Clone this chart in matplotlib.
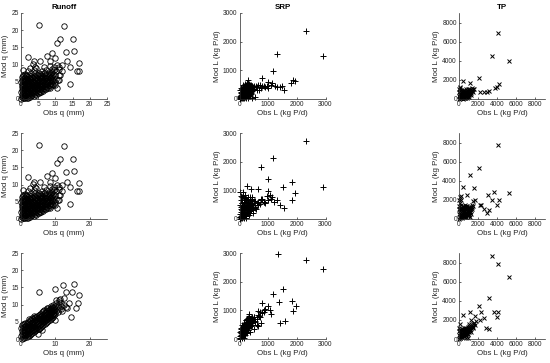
import matplotlib
matplotlib.use('Agg')
import matplotlib.pyplot as plt

plt.rcParams['font.family'] = ['Liberation Sans', 'DejaVu Sans']

# Runoff, rows 1 and 2 (same scatter), (obs, mod) in mm
runoff_a = [
    (0.1, 0.1), (0.2, 0.6), (0.3, 1.3), (0.1, 2.0), (0.4, 2.7), (0.2, 3.4), (0.3, 4.1), (0.1, 4.9),
    (0.4, 5.6), (0.2, 6.3), (0.5, 7.1), (0.6, 8.5),
    (0.9, 0.2), (0.8, 0.9), (1.0, 1.7), (0.9, 2.5), (0.8, 3.2), (1.0, 4.0), (0.9, 4.8), (1.1, 5.5),
    (0.9, 6.2), (1.2, 7.4),
    (1.6, 0.3), (1.5, 1.1), (1.7, 1.9), (1.6, 2.7), (1.5, 3.5), (1.7, 4.3), (1.6, 5.1), (1.8, 5.9),
    (1.5, 6.6), (1.9, 8.0),
    (2.3, 0.5), (2.2, 1.3), (2.4, 2.1), (2.3, 2.9), (2.2, 3.7), (2.4, 4.5), (2.3, 5.3), (2.5, 6.1),
    (2.2, 7.0), (2.6, 9.0),
    (3.0, 0.8), (3.1, 1.6), (2.9, 2.4), (3.0, 3.2), (3.1, 4.0), (2.9, 4.8), (3.0, 5.6), (3.2, 6.5),
    (3.0, 7.6), (3.4, 10.2),
    (3.7, 1.0), (3.8, 1.8), (3.6, 2.6), (3.7, 3.4), (3.8, 4.2), (3.6, 5.0), (3.7, 5.8), (3.9, 6.7),
    (3.8, 8.3),
    (4.4, 1.3), (4.5, 2.1), (4.3, 2.9), (4.4, 3.7), (4.5, 4.5), (4.3, 5.3), (4.4, 6.1), (4.6, 7.1),
    (4.5, 9.0),
    (5.1, 1.6), (5.2, 2.4), (5.0, 3.2), (5.1, 4.0), (5.2, 4.8), (5.0, 5.6), (5.1, 6.5), (5.3, 7.6),
    (5.8, 2.0), (5.9, 2.8), (5.7, 3.6), (5.8, 4.4), (5.9, 5.2), (5.7, 6.0), (5.8, 6.9), (6.0, 8.2),
    (6.5, 2.4), (6.6, 3.2), (6.4, 4.0), (6.5, 4.8), (6.6, 5.6), (6.4, 6.5), (6.6, 7.5), (6.8, 9.2),
    (7.2, 2.8), (7.3, 3.7), (7.1, 4.5), (7.2, 5.3), (7.3, 6.2), (7.2, 7.1), (7.4, 8.3),
    (7.9, 3.3), (8.0, 4.2), (7.8, 5.0), (7.9, 5.9), (8.0, 6.8), (8.1, 7.9), (8.3, 9.6),
    (8.6, 3.8), (8.7, 4.7), (8.5, 5.6), (8.6, 6.5), (8.8, 7.6), (8.9, 8.8),
    (9.3, 4.2), (9.4, 5.2), (9.2, 6.2), (9.4, 7.3), (9.5, 8.5),
    (10.0, 4.8), (10.1, 5.9), (9.9, 7.0), (10.2, 8.2), (10.4, 9.8),
    (10.8, 5.6), (10.9, 6.9), (11.1, 8.6),
    (0.5, 0.4), (0.6, 1.0), (0.5, 1.6), (0.6, 2.3), (0.5, 3.0), (0.6, 3.7), (0.5, 4.4), (0.6, 5.2),
    (0.5, 5.9), (0.7, 6.7),
    (1.2, 0.3), (1.3, 1.3), (1.2, 2.1), (1.3, 2.9), (1.2, 3.6), (1.3, 4.4), (1.2, 5.2), (1.3, 6.0),
    (1.4, 7.0),
    (1.9, 0.4), (2.0, 1.5), (1.9, 2.3), (2.0, 3.1), (1.9, 3.9), (2.0, 4.7), (1.9, 5.5), (2.0, 6.3),
    (2.6, 0.7), (2.7, 1.7), (2.6, 2.5), (2.7, 3.3), (2.6, 4.1), (2.7, 4.9), (2.6, 5.7), (2.8, 6.8),
    (3.3, 1.1), (3.4, 2.0), (3.3, 2.8), (3.4, 3.6), (3.3, 4.4), (3.4, 5.2), (3.3, 6.0),
    (4.0, 1.4), (4.1, 2.3), (4.0, 3.1), (4.1, 3.9), (4.0, 4.7), (4.1, 5.5), (4.0, 6.4), (4.2, 7.6),
    (4.8, 1.8), (4.7, 2.6), (4.8, 3.4), (4.7, 4.2), (4.8, 5.0), (4.7, 5.9), (4.9, 6.9),
    (5.5, 2.1), (5.4, 2.9), (5.5, 3.7), (5.4, 4.5), (5.5, 5.3), (5.4, 6.2), (5.6, 7.2),
    (6.2, 2.6), (6.1, 3.4), (6.2, 4.2), (6.1, 5.0), (6.2, 5.9), (6.1, 6.8),
    (6.9, 2.9), (6.8, 3.8), (6.9, 4.6), (6.8, 5.5), (6.9, 6.4), (7.0, 7.6),
    (7.6, 3.4), (7.5, 4.3), (7.6, 5.2), (7.5, 6.1), (7.7, 7.2),
    (8.3, 4.1), (8.2, 5.0), (8.3, 6.0), (8.4, 7.1),
    (9.0, 4.5), (8.9, 5.5), (9.0, 6.6), (9.1, 7.9),
    (5.1, 21.6), (12.4, 21.1), (11.2, 17.4), (10.4, 16.2), (15.0, 17.4), (15.5, 14.0), (13.1, 13.6),
    (16.8, 10.6), (16.2, 8.1), (16.8, 8.1), (14.3, 4.4), (1.9, 12.2), (9.0, 13.3), (7.5, 12.4),
    (13.3, 10.9), (14.3, 9.4), (11.9, 9.9), (11.9, 8.0), (10.6, 3.1), (9.9, 11.9), (5.6, 10.9),
    (3.7, 10.9), (4.2, 9.4), (8.5, 10.9), (9.5, 9.4), (10.9, 9.4), (11.4, 7.0), (10.9, 5.5),
    (9.9, 4.1), (8.5, 3.1),
]

# Runoff, row 3
runoff_b = [
    (0.2, 0.1), (0.1, 0.8), (0.3, 1.6), (0.2, 2.4), (0.1, 3.2), (0.3, 4.0),
    (0.9, 0.3), (0.8, 1.1), (1.0, 1.9), (0.9, 2.7), (0.8, 3.5), (1.0, 4.3),
    (1.6, 0.6), (1.5, 1.4), (1.7, 2.2), (1.6, 3.0), (1.5, 3.8), (1.7, 4.6),
    (2.3, 1.0), (2.2, 1.8), (2.4, 2.6), (2.3, 3.4), (2.2, 4.2), (2.4, 5.0), (2.3, 5.8),
    (3.0, 1.5), (3.1, 2.3), (2.9, 3.1), (3.0, 3.9), (3.1, 4.7), (3.0, 5.5), (3.2, 6.1),
    (3.7, 2.0), (3.8, 2.8), (3.6, 3.6), (3.7, 4.4), (3.8, 5.2), (3.7, 6.0), (3.9, 6.6),
    (4.4, 2.5), (4.5, 3.3), (4.3, 4.1), (4.4, 4.9), (4.5, 5.7), (4.4, 6.5),
    (5.1, 3.0), (5.2, 3.8), (5.0, 4.6), (5.1, 5.4), (5.2, 6.2), (5.1, 7.0),
    (5.8, 3.5), (5.9, 4.3), (5.7, 5.1), (5.8, 5.9), (5.9, 6.7), (5.8, 7.4),
    (6.5, 4.0), (6.6, 4.8), (6.4, 5.6), (6.5, 6.4), (6.6, 7.2), (6.5, 8.0),
    (7.2, 4.6), (7.3, 5.4), (7.1, 6.2), (7.2, 7.0), (7.3, 7.8), (7.2, 8.5),
    (7.9, 5.2), (8.0, 6.0), (7.8, 6.8), (7.9, 7.6), (8.0, 8.4), (7.9, 9.1),
    (8.6, 5.8), (8.7, 6.6), (8.5, 7.4), (8.6, 8.2), (8.7, 9.0), (8.6, 9.7),
    (9.3, 6.5), (9.4, 7.3), (9.2, 8.1), (9.3, 8.9), (9.4, 9.8),
    (10.0, 7.2), (10.1, 8.0), (9.9, 8.8), (10.0, 9.7), (10.1, 10.6), (10.2, 11.4),
    (10.8, 7.9), (10.9, 8.8), (10.7, 9.6), (11.0, 10.8), (11.2, 11.6),
    (11.6, 8.6), (11.7, 9.6), (11.5, 10.5),
    (0.5, 0.4), (0.6, 1.2), (0.5, 2.0), (0.6, 2.8), (0.5, 3.6), (0.6, 4.5),
    (1.2, 0.5), (1.3, 1.3), (1.2, 2.1), (1.3, 2.9), (1.2, 3.7), (1.3, 4.6),
    (1.9, 0.8), (2.0, 1.6), (1.9, 2.4), (2.0, 3.2), (1.9, 4.0), (2.0, 4.9),
    (2.6, 1.3), (2.7, 2.1), (2.6, 2.9), (2.7, 3.7), (2.6, 4.5), (2.7, 5.4),
    (3.3, 1.8), (3.4, 2.6), (3.3, 3.4), (3.4, 4.2), (3.3, 5.0), (3.4, 5.9),
    (4.0, 2.3), (4.1, 3.1), (4.0, 3.9), (4.1, 4.7), (4.0, 5.5), (4.1, 6.4),
    (4.8, 2.8), (4.7, 3.6), (4.8, 4.4), (4.7, 5.2), (4.8, 6.0), (4.7, 6.8),
    (5.5, 3.3), (5.4, 4.1), (5.5, 4.9), (5.4, 5.7), (5.5, 6.5), (5.4, 7.3),
    (6.2, 3.8), (6.1, 4.6), (6.2, 5.4), (6.1, 6.2), (6.2, 7.0), (6.1, 7.8),
    (6.9, 4.3), (6.8, 5.1), (6.9, 5.9), (6.8, 6.7), (6.9, 7.5), (6.8, 8.3),
    (7.6, 4.9), (7.5, 5.7), (7.6, 6.5), (7.5, 7.3), (7.6, 8.1), (7.5, 8.9),
    (8.3, 5.5), (8.2, 6.3), (8.3, 7.1), (8.2, 7.9), (8.3, 8.7),
    (9.0, 6.2), (8.9, 7.0), (9.0, 7.8), (8.9, 8.6), (9.0, 9.4),
    (9.7, 6.9), (9.6, 7.7), (9.7, 8.5), (9.6, 9.3),
    (5.0, 1.5), (6.0, 2.5), (9.8, 5.6), (12.6, 10.0), (13.5, 9.0), (12.0, 8.0),
    (5.1, 13.8), (10.0, 14.5), (12.2, 15.8), (15.5, 16.1), (13.1, 13.8), (14.9, 13.8),
    (16.8, 12.8), (16.5, 10.4), (16.1, 8.9), (14.4, 6.3), (12.6, 11.9), (11.0, 11.4),
    (13.2, 9.4), (13.9, 10.4),
]

# SRP load (kg P/d), rows 1-3
srp_1 = [
    (10, 10), (30, 60), (20, 120), (50, 30), (60, 150), (40, 220), (80, 90), (90, 200), (70, 300),
    (110, 40), (120, 140), (130, 260), (100, 360), (150, 100), (160, 220), (170, 330), (140, 420),
    (190, 60), (200, 170), (210, 290), (220, 400), (180, 460), (240, 120), (250, 240), (260, 350),
    (270, 450), (230, 20), (290, 180), (300, 300), (310, 410), (330, 90), (340, 250), (350, 370),
    (360, 460), (380, 200), (390, 320), (400, 430), (420, 280), (430, 390), (450, 470), (270, 560),
    (200, 520), (120, 480), (60, 400), (30, 300), (330, 520), (400, 500), (460, 420), (480, 350),
    (500, 470), (380, 100), (300, 40), (440, 20),
    (40, 80), (70, 180), (90, 30), (110, 300), (130, 90), (160, 160), (180, 260), (200, 360),
    (210, 80), (230, 190), (250, 310), (270, 150), (280, 380), (310, 220), (320, 340), (360, 150),
    (370, 300), (410, 200), (420, 360), (440, 450), (20, 40), (50, 250), (100, 220), (150, 380),
    (230, 500), (350, 490), (460, 300), (170, 20), (80, 350), (300, 480),
    (560, 450), (620, 420), (700, 480), (750, 380), (900, 420), (960, 450), (1000, 400),
    (1100, 480), (1250, 470), (520, 350), (600, 300), (680, 330), (800, 440),
    (2306, 2376), (1321, 1553), (2897, 1494), (1159, 965), (776, 729), (290, 670), (1008, 576),
    (1124, 553), (660, 494), (857, 459), (1298, 412), (1414, 435), (1553, 318), (1854, 647),
    (1935, 612), (1796, 553), (1471, 459), (394, 176), (530, 60),
]

srp_2 = [
    (10, 10), (30, 80), (20, 180), (50, 40), (60, 250), (40, 350), (80, 130), (90, 300), (70, 450),
    (110, 60), (120, 200), (130, 380), (100, 550), (150, 140), (160, 320), (170, 480), (140, 650),
    (190, 90), (200, 250), (210, 420), (220, 580), (180, 720), (240, 180), (250, 350), (260, 500),
    (270, 650), (230, 30), (290, 260), (300, 430), (310, 600), (330, 130), (340, 360), (350, 530),
    (360, 700), (380, 290), (390, 460), (400, 620), (420, 400), (430, 560), (450, 700), (460, 200),
    (480, 480), (500, 620), (60, 650), (30, 500), (120, 800), (20, 950), (300, 750), (350, 780),
    (440, 760),
    (40, 120), (70, 300), (90, 50), (110, 450), (130, 150), (160, 250), (180, 400), (200, 550),
    (210, 120), (230, 300), (250, 450), (270, 220), (280, 560), (310, 340), (320, 500), (360, 220),
    (370, 450), (410, 300), (420, 520), (440, 650), (20, 60), (50, 420), (100, 350), (150, 580),
    (230, 700), (350, 680), (460, 400), (170, 20), (80, 560), (300, 680), (40, 800), (190, 850),
    (550, 420), (600, 550), (650, 600), (700, 520), (750, 650), (800, 700), (850, 600), (900, 560),
    (1000, 650), (1100, 700), (1200, 600), (560, 350), (480, 320),
    (2329, 2708), (1153, 2122), (765, 1829), (1000, 1383), (1824, 1278), (2918, 1125), (1941, 914),
    (1506, 1114), (1847, 680), (1553, 399), (1412, 481), (1294, 680), (270, 1149), (412, 1055),
    (647, 1043), (1000, 973), (1059, 832), (1118, 774), (965, 797), (765, 715), (847, 598),
    (529, 621), (647, 481), (529, 399), (118, 950), (94, 750),
]

srp_3 = [
    (10, 10), (30, 50), (20, 120), (50, 100), (40, 200), (70, 60), (80, 170), (60, 280), (100, 130),
    (110, 240), (90, 350), (130, 180), (140, 300), (120, 420), (160, 230), (170, 360), (150, 480),
    (190, 280), (200, 400), (180, 540), (220, 320), (230, 450), (210, 600), (250, 370), (260, 500),
    (240, 650), (280, 420), (290, 560), (270, 700), (310, 470), (320, 600), (300, 750), (340, 520),
    (350, 650), (330, 790), (370, 560), (380, 700), (400, 600), (410, 740), (430, 650), (450, 780),
    (470, 700), (500, 760), (300, 300), (400, 450), (350, 250), (200, 150), (150, 50), (250, 200),
    (450, 500), (100, 500), (60, 400), (550, 620), (600, 700), (650, 850), (700, 780), (720, 950),
    (800, 900), (850, 1000), (900, 1050), (500, 350), (600, 500), (750, 550), (650, 450),
    (40, 90), (60, 150), (90, 200), (110, 170), (130, 260), (160, 310), (180, 280), (200, 330),
    (220, 400), (240, 430), (260, 420), (280, 500), (300, 520), (320, 540), (340, 600), (360, 620),
    (380, 600), (400, 680), (420, 700), (440, 720), (30, 20), (80, 40), (120, 90), (170, 150),
    (230, 240), (280, 330), (330, 400), (380, 480), (430, 560), (480, 640), (20, 250), (60, 350),
    (110, 420), (160, 550), (210, 650),
    (1330, 2965), (2322, 2753), (2917, 2435), (1505, 1729), (1167, 1553), (1389, 1282),
    (1832, 1318), (1972, 1165), (1867, 988), (1108, 859), (1050, 1000), (992, 1165), (782, 1259),
    (1424, 553), (1575, 612), (840, 929), (630, 965), (513, 765), (688, 812), (548, 576),
    (315, 882), (257, 694), (432, 729),
]

# TP load (kg P/d), rows 1-3
tp_1 = [
    (20, 20), (80, 150), (50, 350), (150, 80), (180, 300), (120, 550), (250, 200), (280, 450),
    (220, 700), (350, 100), (380, 350), (330, 600), (450, 250), (480, 500), (420, 800), (550, 150),
    (580, 400), (520, 650), (650, 300), (680, 550), (620, 850), (750, 200), (780, 450), (720, 700),
    (850, 350), (880, 600), (950, 250), (980, 500), (920, 800), (1050, 400), (1080, 650),
    (1150, 550), (1200, 800), (1300, 650), (1400, 900), (1250, 400), (1000, 900), (30, 700),
    (10, 1000), (100, 1200), (1500, 1000), (1350, 1100), (1100, 1000), (900, 1000), (700, 1000),
    (600, 100), (400, 50), (850, 100),
    (100, 400), (200, 150), (300, 300), (400, 600), (500, 400), (600, 700), (700, 450), (800, 650),
    (900, 400), (1000, 600), (1100, 750), (1200, 500), (300, 850), (500, 900), (150, 650),
    (250, 950), (650, 150), (1100, 250), (1350, 850), (1450, 700),
    (4128, 6866), (3488, 4542), (5196, 3944), (2135, 2218), (463, 1901), (1174, 1655), (107, 1232),
    (4021, 1232), (4200, 1585), (3737, 1127), (2242, 775), (2598, 775), (2954, 775), (3132, 880),
    (1601, 1092),
]

tp_2 = [
    (20, 20), (80, 200), (50, 500), (150, 100), (180, 400), (120, 800), (250, 250), (280, 600),
    (220, 1000), (350, 120), (380, 450), (330, 850), (450, 300), (480, 700), (420, 1150), (550, 200),
    (580, 550), (520, 950), (650, 400), (680, 800), (620, 1250), (750, 250), (780, 650), (720, 1050),
    (850, 450), (880, 850), (950, 300), (980, 700), (920, 1150), (1050, 550), (1080, 950),
    (1150, 750), (1200, 1100), (1300, 900), (1400, 1300), (1250, 550), (1000, 1300), (30, 1000),
    (10, 1400), (100, 1700), (1500, 1400), (1350, 1500), (800, 1400), (600, 1500), (400, 1400),
    (50, 2000), (150, 2300), (1100, 400), (1200, 200),
    (100, 600), (200, 200), (300, 400), (400, 900), (500, 500), (600, 1000), (700, 600), (800, 1100),
    (900, 600), (1000, 950), (1100, 1200), (1200, 700), (300, 1200), (500, 1300), (150, 1000),
    (250, 1500), (650, 200), (1400, 1000), (1300, 1300), (700, 1350),
    (4128, 7754), (2135, 5298), (1174, 4596), (463, 3298), (1530, 3193), (818, 2491), (249, 2386),
    (178, 2035), (3666, 2842), (5196, 2772), (3060, 2491), (3416, 2035), (4200, 2035), (4021, 1439),
    (2242, 1439), (2349, 1509), (1423, 1895), (2598, 1088), (3132, 912), (2883, 632), (1708, 2000),
]

tp_3 = [
    (20, 20), (80, 150), (50, 400), (150, 100), (180, 350), (120, 650), (250, 250), (280, 550),
    (220, 900), (350, 200), (380, 500), (330, 800), (450, 350), (480, 700), (420, 1050), (550, 300),
    (580, 650), (520, 950), (650, 500), (680, 850), (620, 1200), (750, 400), (780, 750), (720, 1100),
    (850, 600), (880, 950), (950, 500), (980, 850), (920, 1250), (1050, 700), (1080, 1050),
    (1150, 900), (1200, 1250), (1300, 1100), (1400, 1450), (1250, 750), (1000, 1400), (30, 800),
    (10, 1200), (100, 1600), (1500, 1300), (1600, 1700), (1700, 1500), (1800, 1900), (900, 100),
    (700, 150), (1300, 2000), (1100, 1600),
    (100, 300), (200, 500), (300, 350), (400, 700), (500, 600), (600, 900), (700, 700), (800, 1000),
    (900, 800), (1000, 1100), (1100, 900), (1200, 1000), (300, 1000), (500, 1200), (150, 900),
    (1350, 1300), (1500, 1600), (1450, 1100), (800, 500), (600, 400),
    (3488, 8737), (4128, 7895), (5196, 6491), (3132, 4281), (2135, 3474), (463, 2526), (1174, 2877),
    (2313, 2877), (3666, 2807), (4128, 2807), (4021, 2281), (2598, 2175), (2171, 2000), (1708, 2421),
    (2847, 1123), (3132, 1018), (1530, 1649),
]

titles = ['Runoff', 'SRP', 'TP']
panels = [[runoff_a, srp_1, tp_1],
          [runoff_a, srp_2, tp_2],
          [runoff_b, srp_3, tp_3]]
markers = [('o', 3.9, 0.6), ('+', 4.3, 0.7), ('x', 3.3, 0.7)]
xlabels = ['Obs q (mm)', 'Obs L (kg P/d)', 'Obs L (kg P/d)']
ylabels = ['Mod q (mm)', 'Mod L (kg P/d)', 'Mod L (kg P/d)']
limits = [25, 3000, 9000]

axcol = '#262626'
fig = plt.figure(figsize=(5.5, 3.63), dpi=100)
lefts = [0.0382, 0.4355, 0.8345]
bottoms = [0.7273, 0.3967, 0.0661]
w, h = 0.1564, 0.2369

for r in range(3):
    for c in range(3):
        ax = fig.add_axes([lefts[c], bottoms[r], w, h])
        pts = panels[r][c]
        xs = [p[0] for p in pts]
        ys = [p[1] for p in pts]
        m, ms, mew = markers[c]
        ax.plot(xs, ys, linestyle='none', marker=m, markersize=ms,
                markerfacecolor='none', markeredgecolor='black', markeredgewidth=mew,
                clip_on=False)
        ax.set_xlim(0, limits[c])
        ax.set_ylim(0, limits[c])
        if c == 0:
            ax.set_yticks([0, 5, 10, 15, 20, 25])
            if r == 0:
                ax.set_xticks([0, 5, 10, 15, 20, 25])
            else:
                ax.set_xticks([0, 10, 20])
        elif c == 1:
            ax.set_xticks([0, 1000, 2000, 3000])
            ax.set_yticks([0, 1000, 2000, 3000])
        else:
            ax.set_xticks([0, 2000, 4000, 6000, 8000])
            ax.set_yticks([0, 2000, 4000, 6000, 8000])
        for s in ['top', 'right']:
            ax.spines[s].set_visible(False)
        for s in ['left', 'bottom']:
            ax.spines[s].set_color(axcol)
            ax.spines[s].set_linewidth(0.5)
        ax.tick_params(direction='in', length=1.5, width=0.5, colors=axcol,
                       labelsize=4.8, pad=1.5)
        ax.set_xlabel(xlabels[c], fontsize=5.7, color=axcol, labelpad=1.5)
        ax.set_ylabel(ylabels[c], fontsize=5.7, color=axcol, labelpad=1.5)
        if r == 0:
            ax.set_title(titles[c], fontsize=5.7, fontweight='bold', color='black', pad=3)

fig.savefig('out.png', dpi=100)
